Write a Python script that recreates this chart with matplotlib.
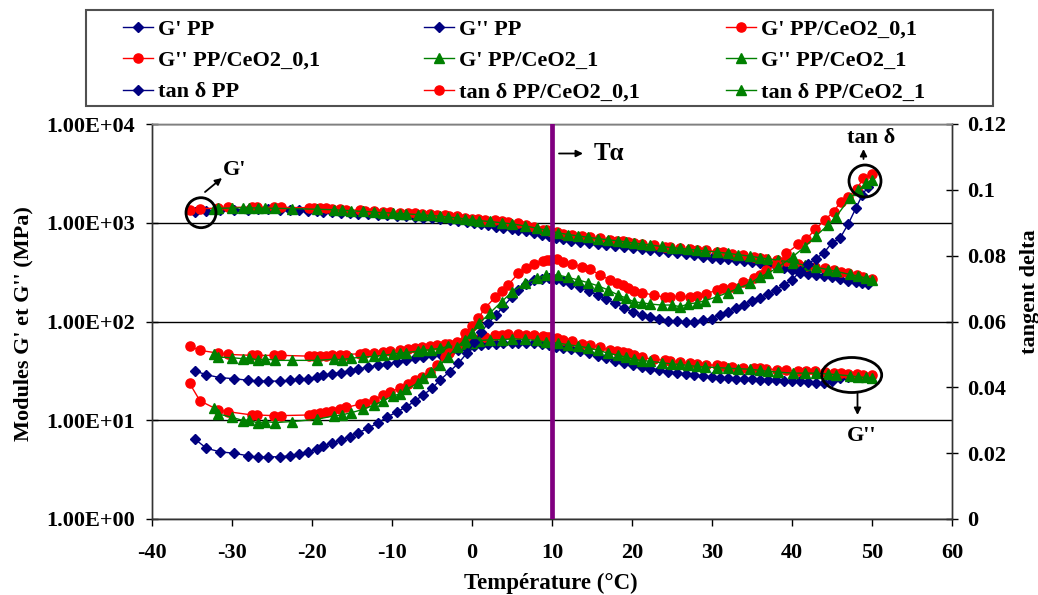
import matplotlib
matplotlib.use('Agg')
import matplotlib.pyplot as plt
from matplotlib.patches import Ellipse, Rectangle
from matplotlib.transforms import IdentityTransform
from matplotlib.ticker import FixedLocator, FuncFormatter, NullLocator

plt.rcParams['font.family'] = ['Liberation Serif', 'DejaVu Serif']
plt.rcParams['font.weight'] = 'bold'
plt.rcParams['axes.unicode_minus'] = False

# ---------------- data ----------------
T_PP = [-34.6, -33.2, -31.5, -29.8, -28.0, -26.7, -25.5, -24.0, -22.8, -21.6,
        -20.5, -19.4, -18.6, -17.5, -16.4, -15.3, -14.2, -13.0, -11.8, -10.6,
        -9.4, -8.2, -7.1, -6.1, -5.0, -4.0, -2.8, -1.7, -0.6, 0.3,
        1.1, 2.0, 3.0, 3.9, 5.0, 5.8, 6.8, 7.8, 8.7, 9.6,
        10.5, 11.4, 12.4, 13.5, 14.6, 15.7, 16.8, 17.9, 19.0, 20.1,
        21.2, 22.3, 23.4, 24.5, 25.6, 26.7, 27.8, 28.9, 30.0, 31.0,
        32.0, 33.0, 34.0, 35.0, 36.0, 37.0, 38.0, 39.0, 40.0, 41.0,
        42.0, 43.0, 44.0, 45.0, 46.0, 47.0, 48.0, 48.8, 49.5]
G1_PP = [1280, 1320, 1343, 1360, 1350, 1365, 1370, 1360, 1343, 1335,
         1310, 1300, 1290, 1271, 1260, 1250, 1235, 1220, 1205, 1190,
         1177, 1160, 1145, 1130, 1112, 1090, 1065, 1045, 1020, 1000,
         975, 940, 915, 893, 870, 850, 822, 790, 760, 730,
         700, 682, 660, 638, 618, 610, 602, 586, 573, 560,
         542, 526, 514, 503, 493, 484, 466, 452, 440, 433,
         425, 418, 408, 398, 388, 376, 364, 350, 330, 313,
         305, 297, 288, 280, 270, 259, 252, 246, 240]
G2_PP = [31.5, 28.9, 27.0, 26.4, 25.4, 24.9, 24.9, 24.9, 25.4, 25.9,
         26.4, 27.5, 28.5, 29.6, 30.4, 31.8, 33.0, 34.6, 36.0, 37.3,
         38.6, 40.5, 42.5, 44.2, 46.0, 47.3, 49.5, 51.8, 54.3, 56.5,
         57.5, 58.5, 59.5, 60.2, 60.8, 61.0, 60.5, 60.0, 58.8, 57.5,
         55.5, 54.0, 52.3, 49.8, 47.5, 44.5, 42.3, 40.2, 37.8, 36.0,
         34.6, 33.3, 32.2, 31.0, 30.2, 29.4, 28.8, 27.9, 27.4, 27.0,
         26.6, 26.4, 26.2, 25.9, 25.6, 25.4, 25.3, 25.0, 24.9, 24.7,
         24.3, 23.9, 23.6, 24.8, 26.5, 27.2, 27.4, 27.2, 26.8]
TAN_PP = [0.0242, 0.0215, 0.0204, 0.0200, 0.0192, 0.0187, 0.0189, 0.0189, 0.0192, 0.0197,
          0.0203, 0.0213, 0.0222, 0.0230, 0.0240, 0.0250, 0.0262, 0.0276, 0.0291, 0.0310,
          0.0325, 0.0341, 0.0359, 0.0377, 0.0397, 0.0422, 0.0448, 0.0473, 0.0505, 0.0537,
          0.0567, 0.0594, 0.0620, 0.0645, 0.0675, 0.0696, 0.0714, 0.0726, 0.0730, 0.0732,
          0.0730, 0.0722, 0.0715, 0.0706, 0.0692, 0.0681, 0.0668, 0.0655, 0.0641, 0.0629,
          0.0619, 0.0614, 0.0608, 0.0603, 0.0601, 0.0598, 0.0598, 0.0605, 0.0609, 0.0620,
          0.0630, 0.0641, 0.0651, 0.0662, 0.0672, 0.0683, 0.0695, 0.0712, 0.0726, 0.0752,
          0.0775, 0.0791, 0.0809, 0.0839, 0.0853, 0.0895, 0.0945, 0.0985, 0.1010]

T_01 = [-35.3, -34.0, -31.7, -30.5, -27.5, -26.9, -24.8, -23.9, -20.4, -19.7,
        -19.0, -18.2, -17.5, -16.5, -15.7, -14.0, -13.4, -12.3, -11.1, -10.3,
        -9.0, -8.0, -7.1, -6.3, -5.3, -4.4, -3.4, -2.9, -1.9, -0.9,
        0.0, 0.8, 1.6, 2.9, 3.7, 4.5, 5.8, 6.7, 7.7, 8.9,
        9.4, 9.8, 10.6, 11.4, 12.5, 13.7, 14.8, 16.0, 17.3, 18.1,
        18.9, 19.5, 20.2, 21.2, 22.7, 24.1, 24.8, 26.0, 27.3, 28.1,
        29.3, 30.6, 31.4, 32.5, 33.9, 35.2, 36.0, 36.8, 38.1, 39.3,
        40.8, 41.8, 42.9, 44.1, 45.2, 46.1, 47.0, 48.1, 48.9, 50.0]
G1_01 = [1343, 1390, 1406, 1430, 1440, 1440, 1430, 1430, 1420, 1415,
         1410, 1400, 1390, 1374, 1360, 1335, 1321, 1300, 1285, 1271,
         1260, 1250, 1241, 1230, 1218, 1205, 1185, 1175, 1160, 1130,
         1100, 1090, 1078, 1062, 1035, 1007, 985, 955, 900, 850,
         840, 833, 808, 775, 755, 739, 720, 697, 670, 656,
         650, 640, 628, 615, 590, 568, 563, 550, 540, 535,
         528, 510, 501, 488, 470, 452, 440, 430, 420, 410,
         380, 368, 358, 345, 330, 318, 308, 295, 282, 270]
G2_01 = [56.3, 51.0, 47.8, 46.4, 45.4, 45.4, 45.4, 45.4, 44.6, 44.6,
         44.6, 44.8, 45.4, 45.9, 46.3, 47.2, 47.5, 47.8, 49.0, 50.0,
         51.8, 52.8, 53.9, 54.8, 56.0, 57.3, 58.9, 59.5, 61.8, 62.8,
         63.8, 66.5, 69.0, 72.2, 72.5, 73.9, 73.9, 73.0, 72.2, 70.5,
         70.0, 69.5, 67.5, 65.3, 62.8, 59.5, 57.5, 55.0, 51.0, 49.8,
         49.0, 47.5, 45.9, 43.3, 41.5, 40.5, 39.9, 38.9, 37.7, 36.8,
         36.5, 36.0, 35.6, 35.0, 34.0, 34.0, 33.6, 33.3, 32.5, 32.0,
         31.5, 31.5, 31.2, 30.7, 30.0, 29.8, 29.5, 29.2, 28.9, 28.5]
TAN_01 = [0.0412, 0.0359, 0.0331, 0.0326, 0.0316, 0.0316, 0.0314, 0.0314, 0.0316, 0.0318,
          0.0321, 0.0324, 0.0327, 0.0334, 0.0339, 0.0349, 0.0353, 0.0362, 0.0377, 0.0387,
          0.0397, 0.0410, 0.0422, 0.0432, 0.0447, 0.0468, 0.0493, 0.0505, 0.0529, 0.0564,
          0.0586, 0.0610, 0.0640, 0.0674, 0.0692, 0.0711, 0.0746, 0.0762, 0.0774, 0.0784,
          0.0787, 0.0787, 0.0789, 0.0782, 0.0775, 0.0766, 0.0759, 0.0741, 0.0726, 0.0718,
          0.0710, 0.0702, 0.0694, 0.0688, 0.0680, 0.0674, 0.0675, 0.0677, 0.0675, 0.0677,
          0.0684, 0.0696, 0.0701, 0.0706, 0.0721, 0.0731, 0.0741, 0.0756, 0.0772, 0.0807,
          0.0835, 0.0850, 0.0880, 0.0908, 0.0934, 0.0964, 0.0979, 0.1002, 0.1035, 0.1048]

T_1 = [-32.3, -31.7, -30.0, -28.6, -27.9, -26.7, -25.9, -24.6, -22.5, -19.4,
       -17.3, -16.3, -15.1, -13.6, -12.3, -11.1, -9.9, -9.0, -8.2, -6.7,
       -6.1, -5.1, -4.0, -3.0, -1.9, -0.9, 0.0, 0.9, 2.2, 3.7,
       5.0, 6.6, 8.1, 9.3, 10.8, 12.0, 13.3, 14.5, 15.8, 17.0,
       18.3, 19.2, 20.2, 21.2, 22.3, 23.7, 25.0, 26.0, 27.0, 28.1,
       29.1, 30.6, 32.0, 33.3, 34.8, 36.0, 37.0, 38.3, 40.1, 41.6,
       43.0, 44.5, 45.5, 47.2, 48.3, 49.3, 50.0]
G1_1 = [1390, 1400, 1410, 1415, 1415, 1410, 1405, 1400, 1390, 1370,
        1355, 1340, 1325, 1300, 1285, 1265, 1250, 1240, 1230, 1210,
        1200, 1185, 1165, 1145, 1120, 1095, 1070, 1050, 1030, 1000,
        975, 930, 880, 840, 790, 760, 735, 712, 690, 672,
        655, 640, 625, 610, 595, 575, 560, 550, 540, 528,
        518, 505, 490, 475, 458, 442, 430, 418, 395, 372,
        355, 335, 322, 300, 288, 275, 265]
G2_1 = [47.2, 43.6, 43.0, 42.0, 43.0, 40.4, 42.0, 40.4, 40.4, 40.4,
        41.5, 41.1, 42.5, 43.6, 44.3, 45.4, 46.8, 47.8, 48.5, 50.1,
        51.0, 52.0, 53.5, 55.9, 57.0, 58.5, 60.5, 64.0, 65.3, 65.3,
        66.9, 65.8, 64.3, 61.8, 60.4, 58.2, 56.3, 54.2, 51.0, 47.8,
        45.5, 43.6, 41.5, 40.2, 39.5, 38.3, 37.2, 36.8, 35.9, 35.1,
        34.6, 34.2, 33.6, 33.3, 32.8, 32.0, 31.3, 30.7, 30.0, 30.0,
        30.0, 29.4, 29.0, 28.2, 27.5, 27.1, 26.8]
TAN_1 = [0.0336, 0.0319, 0.0309, 0.0299, 0.0301, 0.0291, 0.0296, 0.0293, 0.0296, 0.0303,
         0.0313, 0.0316, 0.0323, 0.0333, 0.0346, 0.0359, 0.0374, 0.0380, 0.0394, 0.0414,
         0.0427, 0.0447, 0.0468, 0.0493, 0.0523, 0.0544, 0.0564, 0.0594, 0.0625, 0.0660,
         0.0690, 0.0716, 0.0731, 0.0741, 0.0741, 0.0734, 0.0726, 0.0718, 0.0708, 0.0696,
         0.0680, 0.0672, 0.0660, 0.0657, 0.0653, 0.0650, 0.0650, 0.0645, 0.0653, 0.0657,
         0.0663, 0.0675, 0.0688, 0.0701, 0.0716, 0.0736, 0.0746, 0.0766, 0.0797, 0.0827,
         0.0860, 0.0893, 0.0918, 0.0974, 0.0999, 0.1020, 0.1030]

T_ALPHA = 10
X_TICKS = [-40, -30, -20, -10, 0, 10, 20, 30, 40, 50, 60]
Y_LEFT_TICKS = [1, 10, 100, 1000, 10000]
Y_RIGHT_TICKS = [0, 0.02, 0.04, 0.06, 0.08, 0.1, 0.12]

# ---------------- figure ----------------
W, H = 1038, 595
fig = plt.figure(figsize=(W / 100, H / 100), dpi=100)
ax = fig.add_axes([152 / W, (H - 519) / H, 800 / W, 395 / H])
ax2 = ax.twinx()

NAVY = '#000080'
RED = '#FF0000'
GREEN = '#008000'
sty = {
    'PP': dict(color=NAVY, marker='D', ms=4.6, lw=1.0, mec=NAVY, mfc=NAVY),
    '01': dict(color=RED, marker='o', ms=6.6, lw=1.0, mec=RED, mfc=RED),
    '1': dict(color=GREEN, marker='^', ms=7.0, lw=1.0, mec=GREEN, mfc=GREEN),
}

l_g1_pp, = ax.plot(T_PP, G1_PP, label="G' PP", **sty['PP'])
l_g2_pp, = ax.plot(T_PP, G2_PP, label="G'' PP", **sty['PP'])
l_g1_01, = ax.plot(T_01, G1_01, label="G' PP/CeO2_0,1", **sty['01'])
l_g2_01, = ax.plot(T_01, G2_01, label="G'' PP/CeO2_0,1", **sty['01'])
l_g1_1, = ax.plot(T_1, G1_1, label="G' PP/CeO2_1", **sty['1'])
l_g2_1, = ax.plot(T_1, G2_1, label="G'' PP/CeO2_1", **sty['1'])
l_t_pp, = ax2.plot(T_PP, TAN_PP, label="tan δ PP", **sty['PP'])
l_t_01, = ax2.plot(T_01, TAN_01, label="tan δ PP/CeO2_0,1", **sty['01'])
l_t_1, = ax2.plot(T_1, TAN_1, label="tan δ PP/CeO2_1", **sty['1'])

ax2.axvline(T_ALPHA, color='#800080', lw=3.4, zorder=10)

ax.set_xlim(-40, 60)
ax.set_yscale('log')
ax.set_ylim(1, 1e4)
ax.xaxis.set_major_locator(FixedLocator(X_TICKS))
ax.yaxis.set_major_locator(FixedLocator(Y_LEFT_TICKS))
ax.yaxis.set_minor_locator(NullLocator())
ax.yaxis.set_major_formatter(FuncFormatter(lambda v, p: f"{v:.2E}"))
ax.yaxis.grid(True, color='black', lw=1.0)
ax.set_axisbelow(True)

ax2.set_ylim(0, 0.12)
ax2.yaxis.set_major_locator(FixedLocator(Y_RIGHT_TICKS))
ax2.yaxis.set_major_formatter(FuncFormatter(lambda v, p: f"{v:g}"))

TICK_FS = 16
ax.tick_params(axis='y', direction='inout', length=8, width=1, labelsize=TICK_FS, pad=8)
ax.tick_params(axis='x', direction='out', length=5, width=1, labelsize=TICK_FS, pad=12)
ax2.tick_params(axis='y', direction='inout', length=8, width=1, labelsize=TICK_FS, pad=7)

for a in (ax, ax2):
    a.spines['top'].set_color('#808080')
    for s in ('left', 'right', 'bottom'):
        a.spines[s].set_color('#333333')
    for s in a.spines.values():
        s.set_linewidth(1.0)

LAB_FS = 16
fig.text(23 / W, 1 - 324 / H, "Modules G' et G'' (MPa)", rotation=90,
         ha='center', va='center', fontsize=LAB_FS)
fig.text(1030 / W, 1 - 292 / H, "tangent delta", rotation=90,
         ha='center', va='center', fontsize=LAB_FS)
fig.text(551 / W, 1 - 583 / H, "Température (°C)", ha='center', va='center',
         fontsize=LAB_FS + 0.5)

# ---------------- legend ----------------
LEG_FS = 16
cols = [
    (123, [l_g1_pp, l_g2_01, l_t_pp]),
    (424, [l_g2_pp, l_g1_1, l_t_01]),
    (726, [l_g1_01, l_g2_1, l_t_1]),
]
for x, hs in cols:
    fig.legend(handles=hs, loc='upper left', bbox_to_anchor=(x / W, 1 - 19 / H),
               bbox_transform=fig.transFigure, frameon=False, borderpad=0,
               borderaxespad=0, handlelength=1.36, handletextpad=0.2,
               labelspacing=0.49, fontsize=LEG_FS)
fig.add_artist(Rectangle((86, H - 106), 907, 96, transform=IdentityTransform(),
                         fill=False, edgecolor='#505050', lw=1.5))

# ---------------- annotations ----------------
ANN_FS = 16
def circle(cx, cy, w, h):
    fig.add_artist(Ellipse((cx, H - cy), w, h, transform=IdentityTransform(),
                           fill=False, edgecolor='black', lw=2.0, zorder=20))

def arrow(x0, y0, x1, y1):
    ax.annotate('', xy=(x1, H - y1), xytext=(x0, H - y0),
                xycoords='figure pixels', textcoords='figure pixels',
                arrowprops=dict(arrowstyle='-|>', color='black', lw=1.3,
                                mutation_scale=10, shrinkA=0, shrinkB=0))

circle(201, 212.7, 30, 30)
arrow(205, 192, 222, 178)
fig.text(235 / W, 1 - 170 / H, "G'", ha='center', va='center', fontsize=ANN_FS)

arrow(559, 153.5, 583, 153.5)
fig.text(609 / W, 1 - 154 / H, "Tα", ha='center', va='center', fontsize=ANN_FS + 2)

circle(865, 181, 32, 32)
arrow(863.5, 159, 863.5, 149)
fig.text(871 / W, 1 - 138 / H, "tan δ", ha='center', va='center', fontsize=ANN_FS)

circle(851.7, 375, 60, 35)
arrow(857.5, 393, 857.5, 415)
fig.text(862 / W, 1 - 436 / H, "G''", ha='center', va='center', fontsize=ANN_FS)

fig.savefig('out.png', dpi=100)
